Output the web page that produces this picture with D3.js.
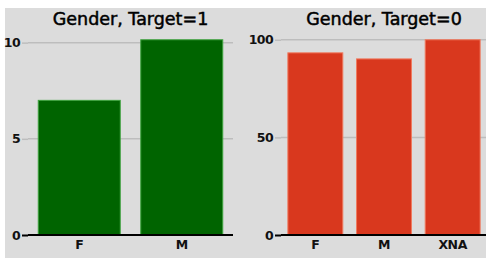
<!DOCTYPE html>
<html><head><meta charset="utf-8">
<script src="https://cdn.jsdelivr.net/npm/d3@7"></script>
<style>
html,body{margin:0;padding:0;background:#fff;}
svg{display:block;}
text{font-family:"DejaVu Sans",Verdana,sans-serif;}
</style></head>
<body>
<script>
const categories1 = ["F", "M"];
const values1 = [7.0, 10.15];
const title1 = "Gender, Target=1";
const ticks1 = [0, 5, 10];

const categories0 = ["F", "M", "XNA"];
const values0 = [93.3, 90.2, 100];
const title0 = "Gender, Target=0";
const ticks0 = [0, 50, 100];

const W = 486, H = 258;
const svg = d3.select("body").append("svg").attr("width", W).attr("height", H);
svg.append("rect").attr("x", 5).attr("y", 8).attr("width", W - 5).attr("height", H - 8).attr("fill", "#dcdcdc");

function panel(cats, vals, ticks, title, x0, x1, fill, edge) {
  const top = 30, bottom = 235;
  const g = svg.append("g");
  const x = d3.scaleBand().domain(cats).range([x0, x1]).paddingInner(0.2).paddingOuter(0.1);
  const y = d3.scaleLinear().domain([0, d3.max(vals) * 1.05]).range([bottom, top]);

  g.selectAll("line.grid").data(ticks.filter(t => t > 0)).join("line")
    .attr("x1", x0).attr("x2", x1)
    .attr("y1", d => y(d)).attr("y2", d => y(d))
    .attr("stroke", "#bdbdbd").attr("stroke-width", 1.5);

  g.selectAll("rect.bar").data(cats).join("rect")
    .attr("x", d => x(d)).attr("width", x.bandwidth())
    .attr("y", (d, i) => y(vals[i])).attr("height", (d, i) => bottom - y(vals[i]))
    .attr("fill", fill).attr("stroke", edge).attr("stroke-width", 1);

  const ya = d3.axisLeft(y).tickValues(ticks).tickSize(6).tickPadding(2).tickFormat(d3.format("d"));
  const yg = g.append("g").attr("transform", `translate(${x0},0)`).call(ya);
  yg.select(".domain").remove();
  yg.selectAll(".tick line").attr("stroke", d => d === 0 ? "#000" : "#bdbdbd").attr("stroke-width", d => d === 0 ? 2 : 1.5);
  yg.selectAll(".tick text").attr("font-size", 12.5).attr("font-weight", "bold").attr("fill", "#111")
    .attr("letter-spacing", "-0.6px").attr("font-family", "DejaVu Sans");

  g.append("line").attr("x1", x0).attr("x2", x1).attr("y1", bottom).attr("y2", bottom)
    .attr("stroke", "#000").attr("stroke-width", 2);
  const xa = d3.axisBottom(x).tickSize(0).tickPadding(5);
  const xg = g.append("g").attr("transform", `translate(0,${bottom})`).call(xa);
  xg.select(".domain").remove();
  xg.selectAll(".tick text").attr("font-size", 12.5).attr("font-weight", "bold").attr("fill", "#111")
    .attr("letter-spacing", "-0.4px").attr("font-family", "DejaVu Sans");

  g.append("text").attr("x", (x0 + x1) / 2).attr("y", 25).attr("text-anchor", "middle")
    .attr("font-size", 17.5).attr("fill", "#000").attr("stroke", "#000").attr("stroke-width", 0.5)
    .text(title);
}

panel(categories1, values1, ticks1, title1, 28, 233, "#006400", "#3fa33f");
panel(categories0, values0, ticks0, title0, 281, 487, "#d9381e", "#f07a5e");
</script>
</body></html>
